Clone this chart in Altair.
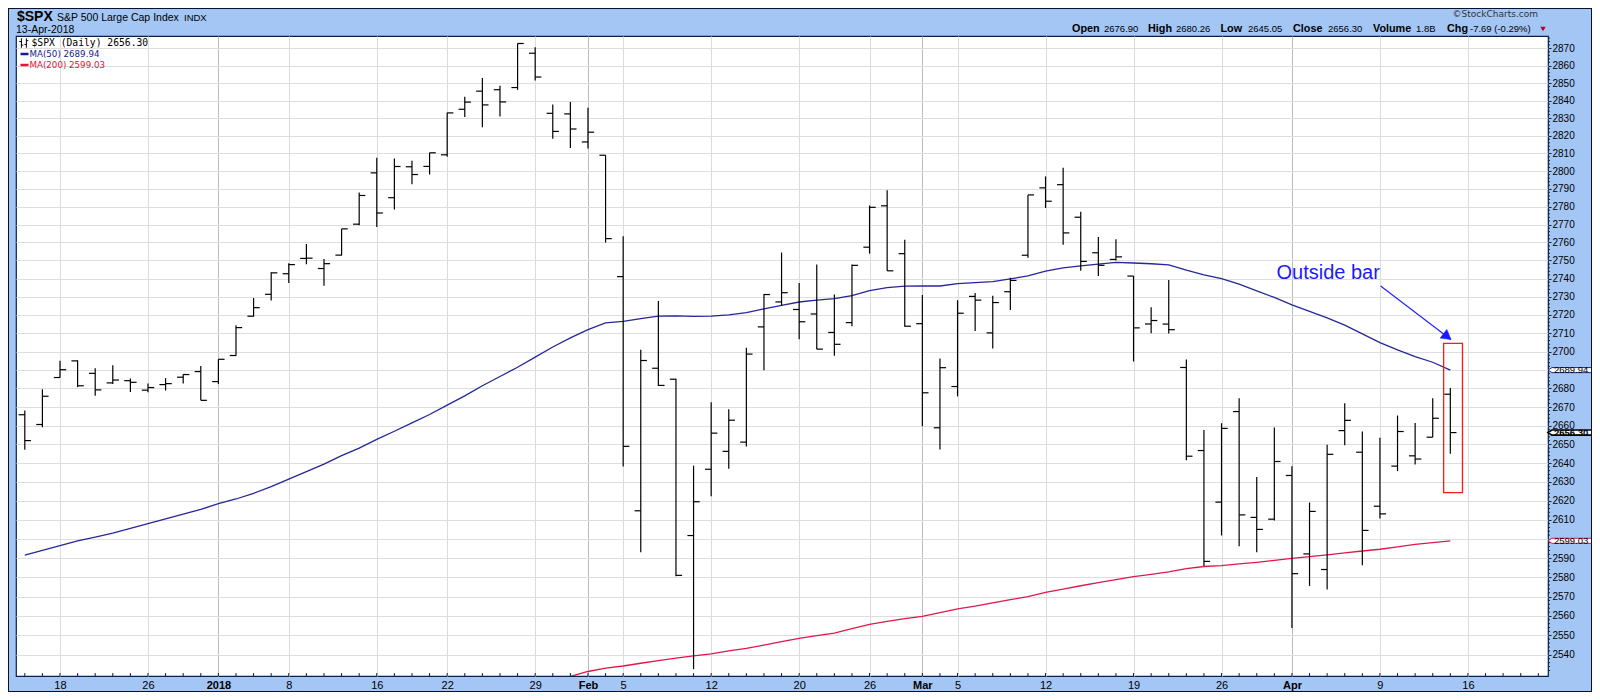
import altair as alt
import pandas as pd

# ---------------- data ----------------
dates = [
    "2017-12-14", "2017-12-15", "2017-12-18", "2017-12-19", "2017-12-20", "2017-12-21", "2017-12-22",
    "2017-12-26", "2017-12-27", "2017-12-28", "2017-12-29",
    "2018-01-02", "2018-01-03", "2018-01-04", "2018-01-05", "2018-01-08", "2018-01-09", "2018-01-10",
    "2018-01-11", "2018-01-12", "2018-01-16", "2018-01-17", "2018-01-18", "2018-01-19", "2018-01-22",
    "2018-01-23", "2018-01-24", "2018-01-25", "2018-01-26", "2018-01-29", "2018-01-30", "2018-01-31",
    "2018-02-01", "2018-02-02", "2018-02-05", "2018-02-06", "2018-02-07", "2018-02-08", "2018-02-09",
    "2018-02-12", "2018-02-13", "2018-02-14", "2018-02-15", "2018-02-16", "2018-02-20", "2018-02-21",
    "2018-02-22", "2018-02-23", "2018-02-26", "2018-02-27", "2018-02-28",
    "2018-03-01", "2018-03-02", "2018-03-05", "2018-03-06", "2018-03-07", "2018-03-08", "2018-03-09",
    "2018-03-12", "2018-03-13", "2018-03-14", "2018-03-15", "2018-03-16", "2018-03-19", "2018-03-20",
    "2018-03-21", "2018-03-22", "2018-03-23", "2018-03-26", "2018-03-27", "2018-03-28", "2018-03-29",
    "2018-04-02", "2018-04-03", "2018-04-04", "2018-04-05", "2018-04-06", "2018-04-09", "2018-04-10",
    "2018-04-11", "2018-04-12", "2018-04-13",
]
opens = [
    2665.87, 2660.63, 2685.92, 2694.95, 2688.18, 2683.02, 2684.22, 2679.09, 2682.10, 2686.10, 2689.15,
    2683.73, 2697.85, 2719.31, 2731.33, 2742.67, 2751.15, 2745.55, 2752.97, 2770.18, 2798.96, 2784.99,
    2802.40, 2802.60, 2809.16, 2835.05, 2845.42, 2846.24, 2847.48, 2867.23, 2832.74, 2832.41,
    2816.45, 2808.92, 2741.06, 2614.78, 2690.95, 2685.01, 2601.78, 2636.75, 2646.27, 2651.21, 2713.46,
    2727.14, 2722.99, 2720.53, 2710.42, 2715.80, 2757.37, 2780.45, 2753.78,
    2715.22, 2658.89, 2681.06, 2730.18, 2710.18, 2732.75, 2752.91, 2790.54, 2792.31, 2774.06, 2754.27,
    2750.57, 2741.38, 2715.05, 2714.99, 2691.36, 2646.71, 2619.35, 2667.57, 2611.30, 2610.37,
    2633.45, 2592.17, 2584.04, 2657.36, 2645.82, 2617.18, 2638.41, 2643.89, 2653.83, 2676.90,
]
highs = [
    2668.09, 2679.63, 2694.97, 2695.25, 2691.01, 2692.64, 2685.35, 2682.74, 2685.64, 2687.66, 2692.12,
    2695.89, 2714.37, 2729.29, 2743.45, 2748.51, 2759.14, 2750.80, 2767.56, 2787.85, 2807.54, 2807.04,
    2805.83, 2810.33, 2833.03, 2842.24, 2852.97, 2848.56, 2872.87, 2870.62, 2837.75, 2839.26,
    2835.96, 2808.92, 2763.39, 2701.04, 2727.67, 2685.27, 2638.67, 2672.61, 2668.84, 2702.10, 2731.51,
    2754.42, 2737.60, 2747.75, 2731.26, 2747.76, 2780.64, 2789.15, 2761.52,
    2730.89, 2696.25, 2728.09, 2732.08, 2730.60, 2740.45, 2786.57, 2796.98, 2801.90, 2777.11, 2763.03,
    2761.85, 2741.38, 2724.22, 2739.14, 2695.68, 2657.67, 2661.36, 2674.78, 2632.65, 2659.07,
    2638.30, 2619.14, 2649.86, 2672.08, 2656.88, 2653.55, 2665.45, 2661.43, 2674.72, 2680.26,
]
lows = [
    2647.14, 2659.14, 2685.92, 2680.74, 2676.11, 2682.40, 2678.13, 2677.96, 2678.91, 2682.69, 2673.61,
    2682.36, 2697.77, 2719.07, 2727.92, 2737.60, 2747.86, 2736.06, 2752.78, 2769.64, 2768.64, 2778.38,
    2792.56, 2798.08, 2808.12, 2830.59, 2824.81, 2830.94, 2846.18, 2851.48, 2818.27, 2813.04,
    2812.70, 2759.97, 2638.17, 2593.07, 2681.33, 2580.56, 2532.69, 2622.45, 2637.08, 2648.87, 2689.82,
    2725.11, 2706.76, 2701.29, 2697.77, 2713.74, 2753.78, 2744.22, 2713.54,
    2659.65, 2647.32, 2675.75, 2711.26, 2701.74, 2722.65, 2751.54, 2779.26, 2758.68, 2744.38, 2741.47,
    2749.97, 2694.59, 2710.05, 2709.79, 2641.59, 2585.89, 2601.81, 2596.12, 2593.06, 2609.72,
    2553.80, 2575.49, 2573.61, 2649.58, 2586.27, 2610.79, 2635.78, 2639.25, 2653.83, 2645.05,
]
closes = [
    2652.01, 2675.81, 2690.16, 2681.47, 2679.25, 2684.57, 2683.34, 2680.50, 2682.62, 2687.54, 2673.61,
    2695.81, 2713.06, 2723.99, 2743.15, 2747.71, 2751.29, 2748.23, 2767.56, 2786.24, 2776.42, 2802.56,
    2798.03, 2810.30, 2832.97, 2839.13, 2837.54, 2839.25, 2872.87, 2853.53, 2822.43, 2823.81,
    2821.98, 2762.13, 2648.94, 2695.14, 2681.66, 2581.00, 2619.55, 2656.00, 2662.94, 2698.63, 2731.20,
    2732.22, 2716.26, 2701.33, 2703.96, 2747.30, 2779.60, 2744.28, 2713.83,
    2677.67, 2691.25, 2720.94, 2728.12, 2726.80, 2738.97, 2786.57, 2783.02, 2765.31, 2749.48, 2747.33,
    2752.01, 2712.92, 2716.94, 2711.93, 2643.69, 2588.26, 2658.55, 2612.62, 2605.00, 2640.87,
    2581.88, 2614.45, 2644.69, 2662.84, 2604.47, 2613.16, 2656.87, 2642.19, 2663.99, 2656.30,
]
ma50 = [
    2591.5, 2594.0, 2596.5, 2599.0, 2601.0, 2603.0, 2605.5, 2608.0, 2610.5, 2613.0, 2615.5,
    2618.5, 2621.0, 2624.0, 2627.5, 2631.5, 2635.5, 2639.5, 2644.0, 2648.0, 2652.7, 2657.0,
    2661.5, 2666.0, 2671.0, 2676.0, 2681.5, 2686.5, 2691.5, 2697.0, 2702.5, 2707.5,
    2712.0, 2715.6, 2716.5, 2718.0, 2719.4, 2719.5, 2719.2, 2719.4, 2720.0, 2721.3, 2723.3,
    2725.2, 2727.1, 2728.1, 2729.0, 2730.6, 2733.3, 2735.0, 2735.8,
    2735.9, 2735.9, 2737.2, 2737.8, 2738.3, 2739.8, 2741.5, 2744.1, 2745.9, 2747.0, 2748.0,
    2749.0, 2748.6, 2748.2, 2747.6, 2744.7, 2742.0, 2740.0, 2736.9, 2733.2, 2729.6,
    2725.5, 2721.9, 2718.4, 2714.4, 2709.6, 2704.9, 2700.9, 2697.3, 2694.2, 2689.94,
]
ma200_first = 31  # first trading day (index) where the MA(200) is visible
ma200 = [
    2529.0, 2531.5, 2533.2, 2534.3, 2535.7, 2537.0, 2538.3, 2539.5, 2540.5, 2542.0,
    2543.3, 2545.0, 2546.8, 2548.4, 2549.8, 2551.1, 2553.4, 2555.6, 2557.2, 2558.6,
    2559.8, 2561.7, 2563.6, 2565.1, 2566.7, 2568.4, 2570.0, 2572.2, 2573.9, 2575.6, 2577.2,
    2578.8, 2580.3, 2581.5, 2582.8, 2584.5, 2585.6, 2586.1, 2587.0, 2587.8, 2588.8,
    2589.8, 2590.8, 2591.7, 2592.7, 2593.7, 2594.6, 2595.9, 2597.1, 2598.1, 2599.03,
]

tick_idx = [2, 7, 11, 15, 20, 24, 29, 32, 34, 39, 44, 48, 51, 53, 58, 63, 68, 72, 77, 82]
tick_labels = ["18", "26", "2018", "8", "16", "22", "29", "Feb", "5", "12", "20", "26",
               "Mar", "5", "12", "19", "26", "Apr", "9", "16"]
bold_idx = [11, 32, 51, 72]
y_labels = list(range(2540, 2871, 10))
y_hidden = [2600, 2690]  # labels covered by the value flags
axis_days = 87  # trading-day slots on the time axis (incl. empty future space)

last_close, last_ma50, last_ma200 = 2656.30, 2689.94, 2599.03

header_pieces = ["Open", "2676.90", "High", "2680.26", "Low", "2645.05", "Close", "2656.30",
                 "Volume", "1.8B", "Chg", "-7.69 (-0.29%)"]

# annotation ("Outside bar") in data units: trading-day index / price
box_x = [80.62, 81.69]
box_y = [2624.4, 2704.5]
arrow_x = [77.04, 81.03]
arrow_y = [2735.9, 2706.6]
note_x, note_y = 74.06, 2739.6

# ---------------- layout ----------------
W, H = 1532, 640
PAD_T = 28
BG = "#a4c6f4"
NAVY = "#0b1f4d"
MA50_C = "#26269a"
MA200_C = "#e0184a"
FONT = "Liberation Sans"

bars = pd.DataFrame({"idx": range(len(dates)), "date": dates, "open": opens,
                     "high": highs, "low": lows, "close": closes})
ma50_df = pd.DataFrame({"idx": range(len(ma50)), "v": ma50})
ma200_df = pd.DataFrame({"idx": range(ma200_first, ma200_first + len(ma200)), "v": ma200})
one = pd.DataFrame({"k": [0]})

xscale = alt.Scale(domain=[-0.5, 86.55], nice=False, zero=False)
yscale = alt.Scale(type="log", domain=[2529.2, 2877.2], nice=False)

lab_expr = "[" + ",".join("'%s'" % t for t in tick_labels) + "][indexof([" + \
    ",".join(str(i) for i in tick_idx) + "], datum.value)]"
bold_test = "indexof([" + ",".join(str(i) for i in bold_idx) + "], datum.value) >= 0"
ylab_expr = "indexof([" + ",".join(str(v) for v in y_hidden) + "], datum.value) >= 0 ? '' : datum.label"

xaxis = alt.Axis(values=tick_idx, labelExpr=lab_expr, title=None, grid=True,
                 gridColor={"condition": {"test": bold_test, "value": "#bcbcbc"}, "value": "#dcdcdc"},
                 labelFontWeight={"condition": {"test": bold_test, "value": "bold"}, "value": "normal"},
                 ticks=False, domain=False, labelFont="Liberation Sans Narrow, Liberation Sans",
                 labelFontSize=11, labelColor="black", labelPadding=3, labelAngle=0,
                 labelOverlap=False, labelFlush=False)
yaxis = alt.Axis(orient="right", values=y_labels, format="d", labelExpr=ylab_expr, title=None,
                 grid=True, gridColor="#dedede", tickSize=3, tickColor=NAVY, domain=False,
                 labelFont=FONT, labelFontSize=10, labelColor="black", labelPadding=1,
                 labelOverlap=False, labelFlush=False, labelBaseline="middle")


def X(f):
    return alt.X(f"{f}:Q", scale=xscale, axis=xaxis)


def Y(f):
    return alt.Y(f"{f}:Q", scale=yscale, axis=yaxis)


def txt(text, x, y, size=10, weight="normal", color="black", font=FONT, align="left",
        baseline="alphabetic"):
    return alt.Chart(one).mark_text(text=text, align=align, baseline=baseline, font=font,
                                    fontSize=size, fontWeight=weight, color=color).encode(
        x=alt.value(x), y=alt.value(y))


layers = []

# moving averages
layers.append(alt.Chart(ma50_df).mark_line(color=MA50_C, strokeWidth=1.3, clip=True).encode(
    x=X("idx"), y=Y("v")))
layers.append(alt.Chart(ma200_df).mark_line(color=MA200_C, strokeWidth=1.3, clip=True).encode(
    x=X("idx"), y=Y("v")))

# OHLC bars
layers.append(alt.Chart(bars).mark_rule(color="black", strokeWidth=1.2).encode(
    x=X("idx"), y=Y("low"), y2="high"))
layers.append(alt.Chart(bars).transform_calculate(a="datum.idx - 0.35").mark_rule(
    color="black", strokeWidth=1.2).encode(x=X("a"), x2="idx", y=Y("open")))
layers.append(alt.Chart(bars).transform_calculate(b="datum.idx + 0.35").mark_rule(
    color="black", strokeWidth=1.2).encode(x=X("idx"), x2="b", y=Y("close")))

# minor day ticks on the time axis
layers.append(alt.Chart(pd.DataFrame({"idx": range(axis_days)})).mark_rule(
    color=NAVY, strokeWidth=1).encode(x=X("idx"), y=alt.value(H - 3), y2=alt.value(H)))
# minor price ticks on the price axis
minor_y = [v for v in range(2530, 2877, 2) if v % 10 != 0]
layers.append(alt.Chart(pd.DataFrame({"v": minor_y})).mark_rule(color=NAVY, strokeWidth=1).encode(
    x=alt.value(W), x2=alt.value(W + 2), y=Y("v")))

# annotation
layers.append(alt.Chart(pd.DataFrame({"x0": [box_x[0]], "x1": [box_x[1]], "y0": [box_y[0]],
                                      "y1": [box_y[1]]})).mark_rect(
    fillOpacity=0, stroke="#ff1a1a", strokeWidth=1.3).encode(x=X("x0"), x2="x1", y=Y("y0"), y2="y1"))
layers.append(alt.Chart(pd.DataFrame({"x0": [arrow_x[0]], "x1": [arrow_x[1]], "y0": [arrow_y[0]],
                                      "y1": [arrow_y[1]]})).mark_rule(
    color="#2020ff", strokeWidth=1.2).encode(x=X("x0"), x2="x1", y=Y("y0"), y2="y1"))
layers.append(alt.Chart(pd.DataFrame({"x": [arrow_x[1]], "y": [arrow_y[1]]})).mark_point(
    shape="triangle-right", size=120, filled=True, fill="#1a1aff", stroke="#1a1aff", strokeWidth=0.5,
    opacity=1, angle=37.5, xOffset=-3.6, yOffset=-2.8).encode(x=X("x"), y=Y("y")))
layers.append(alt.Chart(pd.DataFrame({"x": [note_x], "y": [note_y], "t": ["Outside bar"]})).mark_text(
    fontSize=20, font=FONT, color="#1a1aff", align="center", baseline="alphabetic").encode(
    x=X("x"), y=Y("y"), text="t:N"))

# value flags on the price axis
FLAG = "M -0.82 -0.115 L 1 -0.115 L 1 0.115 L -0.82 0.115 L -1 0 Z"
for val, col, sw, wt in [(last_ma50, MA50_C, 1, "normal"), (last_ma200, MA200_C, 1, "normal"),
                         (last_close, "black", 1.6, "bold")]:
    fd = pd.DataFrame({"v": [val], "t": ["%.2f" % val]})
    layers.append(alt.Chart(fd).mark_point(shape=FLAG, size=44 * 44, filled=True, fill="white",
                                           stroke=col, strokeWidth=sw, opacity=1).encode(
        x=alt.value(W + 22), y=Y("v")))
    layers.append(alt.Chart(fd).mark_text(align="left", baseline="middle", font=FONT, fontSize=9.5,
                                          fontWeight=wt, color="black").encode(
        x=alt.value(W + 6), y=Y("v"), text="t:N"))

# header (left)
layers.append(txt("$SPX", 1, -15, size=14, weight="bold"))
layers.append(txt("S&P 500 Large Cap Index", 41, -15, size=10.5))
layers.append(txt("INDX", 168, -15, size=9.5))
layers.append(txt("13-Apr-2018", 0, -3, size=10.5))
# header (right)
layers.append(txt("\u00a9StockCharts.com", 1522, -19, size=9, font="DejaVu Sans", color="#333333",
                  align="right"))
header_x = [1056, 1088, 1132, 1160, 1204.5, 1232, 1277, 1312, 1357, 1400, 1431, 1454]
for i, (piece, px) in enumerate(zip(header_pieces, header_x)):
    if i % 2 == 0:
        layers.append(txt(piece, px, -4, size=10.8, weight="bold"))
    else:
        layers.append(txt(piece, px, -4, size=9.5))
layers.append(alt.Chart(one).mark_point(shape="triangle-down", size=30, filled=True, fill="#b00030",
                                        opacity=1).encode(x=alt.value(1527), y=alt.value(-7)))

# legend inside plot
ICON = ("M -0.55 -1 L -0.55 1 M -1 -0.3 L -0.55 -0.3 M -0.55 0.45 L -0.15 0.45 "
        "M 0.5 -1 L 0.5 1 M 0.1 0.3 L 0.5 0.3 M 0.5 -0.5 L 0.9 -0.5")
layers.append(alt.Chart(one).mark_point(shape=ICON, size=90, filled=False, stroke="black",
                                        strokeWidth=1, opacity=1).encode(x=alt.value(8), y=alt.value(7)))
layers.append(txt("$SPX (Daily) 2656.30", 15.5, 7, size=9.7, font="DejaVu Sans Mono",
                  baseline="middle"))
layers.append(alt.Chart(one).mark_rule(color="#1a1a8c", strokeWidth=2.5).encode(
    x=alt.value(4.5), x2=alt.value(12.5), y=alt.value(18)))
layers.append(txt("MA(50) 2689.94", 13.5, 18, size=8.7, font="DejaVu Sans", color="#1a1a8c",
                  baseline="middle"))
layers.append(alt.Chart(one).mark_rule(color="#dc143c", strokeWidth=2.5).encode(
    x=alt.value(4.5), x2=alt.value(12.5), y=alt.value(29)))
layers.append(txt("MA(200) 2599.03", 13.5, 29, size=8.7, font="DejaVu Sans", color="#dc143c",
                  baseline="middle"))

# outer frame of the whole figure
layers.append(alt.Chart(one).mark_rect(fillOpacity=0, stroke="#0a1030", strokeWidth=2).encode(
    x=alt.value(-8), x2=alt.value(W + 44), y=alt.value(-PAD_T), y2=alt.value(H + 16)))

chart = alt.layer(*layers).properties(
    width=W, height=H,
    padding={"left": 8, "top": PAD_T, "right": 44, "bottom": 16},
    autosize=alt.AutoSizeParams(type="none"),
).configure(background=BG).configure_view(fill="white", stroke=NAVY, strokeWidth=1.2)

chart.save("out.html", embed_options={"renderer": "svg", "actions": False})
